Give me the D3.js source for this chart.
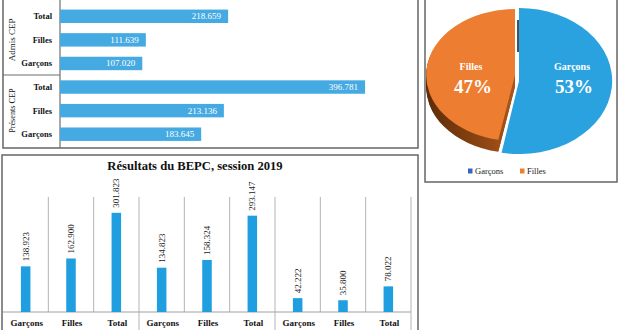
<!DOCTYPE html>
<html>
<head>
<meta charset="utf-8">
<script src="https://cdn.jsdelivr.net/npm/d3@7"></script>
<style>
  body { margin: 0; background: #fff; }
  svg { display: block; }
  text { font-family: "Liberation Serif", "Times New Roman", serif; }
</style>
</head>
<body>
<svg id="chart" width="620" height="330"></svg>
<script>
// CEP: admitted and present candidates (thousands)
const cepGroups = ["Admis CEP", "Présents CEP"];
const cepCategories = ["Total", "Filles", "Garçons"];
const cepAdmis = [218.659, 111.639, 107.020];
const cepPresents = [396.781, 213.136, 183.645];

// Share of admitted by sex
const pieLabels = ["Garçons", "Filles"];
const pieValues = [53, 47];

// BEPC 2019
const bepcTitle = "Résultats du BEPC, session 2019";
const bepcCategories = ["Garçons", "Filles", "Total", "Garçons", "Filles", "Total", "Garçons", "Filles", "Total"];
const bepcValues = [138.923, 162.900, 301.823, 134.823, 158.324, 293.147, 42.222, 35.800, 78.022];

const fmt = d3.format(".3f");
const svg = d3.select("#chart");
const frameColor = "#6f6f6f";

/* ---------- CEP horizontal bars ---------- */
const cepRows = [];
cepGroups.forEach((g, gi) => {
  const vals = gi === 0 ? cepAdmis : cepPresents;
  cepCategories.forEach((c, ci) => cepRows.push({ group: g, cat: c, value: vals[ci], key: g + "|" + c }));
});

const yCep = d3.scaleBand().domain(cepRows.map(d => d.key)).range([4.5, 146]).paddingInner(0.43).paddingOuter(0.215);
const xCep = d3.scaleLinear().domain([0, 450]).range([60, 406]);
const cepG = svg.append("g");

cepG.append("rect").attr("x", 3).attr("y", -3).attr("width", 415).attr("height", 151)
  .attr("fill", "none").attr("stroke", frameColor).attr("stroke-width", 1.6);
cepG.append("line").attr("x1", 60).attr("x2", 60).attr("y1", -3).attr("y2", 148)
  .attr("stroke", frameColor).attr("stroke-width", 1.2);
cepG.append("line").attr("x1", 3).attr("x2", 60).attr("y1", 75).attr("y2", 75)
  .attr("stroke", frameColor).attr("stroke-width", 1.2);

cepG.selectAll("rect.bar").data(cepRows).join("rect").attr("class", "bar")
  .attr("x", xCep(0)).attr("y", d => yCep(d.key))
  .attr("width", d => xCep(d.value) - xCep(0)).attr("height", yCep.bandwidth())
  .attr("fill", "#45aae2");

cepG.selectAll("text.val").data(cepRows).join("text").attr("class", "val")
  .attr("x", d => xCep(d.value) - 7).attr("y", d => yCep(d.key) + yCep.bandwidth() / 2 + 3)
  .attr("text-anchor", "end").attr("fill", "#fff").attr("font-size", 9)
  .text(d => fmt(d.value));

cepG.selectAll("text.cat").data(cepRows).join("text").attr("class", "cat")
  .attr("x", 52).attr("y", d => yCep(d.key) + yCep.bandwidth() / 2 + 3)
  .attr("text-anchor", "end").attr("font-weight", "bold").attr("font-size", 8.5).attr("fill", "#111")
  .text(d => d.cat);

cepGroups.forEach((g, gi) => {
  const keys = cepRows.filter(d => d.group === g).map(d => d.key);
  const cy = (yCep(keys[0]) + yCep(keys[2]) + yCep.bandwidth()) / 2;
  cepG.append("text").attr("transform", `translate(15,${cy}) rotate(-90)`)
    .attr("text-anchor", "middle").attr("font-size", gi === 0 ? 9 : 8.2).attr("fill", "#111")
    .text(g);
});

/* ---------- Pie ---------- */
const pieG = svg.append("g");
pieG.append("rect").attr("x", 425).attr("y", -3).attr("width", 192).attr("height", 185)
  .attr("fill", "none").attr("stroke", frameColor).attr("stroke-width", 1.6);

const defs = svg.append("defs");
const grad = defs.append("linearGradient").attr("id", "side").attr("x1", "0").attr("x2", "1").attr("y1", "0").attr("y2", "0");
grad.append("stop").attr("offset", "0%").attr("stop-color", "#5e2c08");
grad.append("stop").attr("offset", "60%").attr("stop-color", "#8a4412");
grad.append("stop").attr("offset", "100%").attr("stop-color", "#a9561c");

const arcs = d3.pie().sort(null)(pieValues);
const unitArc = d3.arc().innerRadius(0).outerRadius(1);
const pieColors = ["#2aa2e0", "#ed7d31"];
// each slice gets its own ellipse: the Filles slice is pulled slightly to the left
const sliceGeom = [
  { cx: 517, cy: 81, rx: 95, ry: 73 },
  { cx: 515, cy: 75, rx: 89, ry: 66 }
];

// extruded side of the Filles slice
const depth = 12;
const fg = sliceGeom[1];
for (let k = depth; k >= 1; k--) {
  pieG.append("path")
    .attr("transform", `translate(${fg.cx},${fg.cy + k}) scale(${fg.rx},${fg.ry})`)
    .attr("d", unitArc(arcs[1]))
    .attr("fill", "url(#side)");
}
pieG.append("path")
  .attr("transform", `translate(${fg.cx},${fg.cy}) scale(${fg.rx},${fg.ry})`)
  .attr("d", unitArc(arcs[1])).attr("fill", pieColors[1]);

const bg = sliceGeom[0];
// thin side face along the start edge of the Garçons slice
pieG.append("line").attr("x1", bg.cx + 1).attr("x2", bg.cx + 1).attr("y1", 20).attr("y2", 52)
  .attr("stroke", "#4a4f57").attr("stroke-width", 2);
pieG.append("path")
  .attr("transform", `translate(${bg.cx + 2},${bg.cy}) scale(${bg.rx - 2},${bg.ry})`)
  .attr("d", unitArc(arcs[0])).attr("fill", pieColors[0]);

const pieText = [
  { x: 471, name: pieLabels[1], pct: pieValues[1] },
  { x: 572, name: pieLabels[0], pct: pieValues[0] }
];
pieText.forEach(t => {
  pieG.append("text").attr("x", t.x).attr("y", 70).attr("text-anchor", "middle")
    .attr("fill", "#fff").attr("font-weight", "bold").attr("font-size", 10).text(t.name);
  pieG.append("text").attr("x", t.x + 2).attr("y", 93).attr("text-anchor", "middle")
    .attr("fill", "#fff").attr("font-weight", "bold").attr("font-size", 19).text(t.pct + "%");
});

const legendColors = ["#3566bd", "#ed7d31"];
const legendX = [468, 520];
pieLabels.forEach((l, i) => {
  pieG.append("rect").attr("x", legendX[i]).attr("y", 168.5).attr("width", 4.5).attr("height", 5)
    .attr("fill", legendColors[i]);
  pieG.append("text").attr("x", legendX[i] + 7).attr("y", 174).attr("font-size", 8.5).attr("fill", "#222").text(l);
});

/* ---------- BEPC vertical bars ---------- */
const bot = svg.append("g");
bot.append("rect").attr("x", 2).attr("y", 155).attr("width", 416).attr("height", 200)
  .attr("fill", "none").attr("stroke", frameColor).attr("stroke-width", 1.6);

const idx = bepcValues.map((_, i) => i);
const xB = d3.scaleBand().domain(idx).range([3, 411]).paddingInner(0.79).paddingOuter(0.395);
const yB = d3.scaleLinear().domain([0, 350]).range([312, 197]);

bot.append("text").attr("x", 195).attr("y", 170).attr("text-anchor", "middle")
  .attr("font-weight", "bold").attr("font-size", 12.6).attr("fill", "#111").text(bepcTitle);

// separators between categories; the ones between groups run through the label row
const step = xB.step();
d3.range(1, 10).forEach(i => {
  const x = 3 + i * step;
  bot.append("line").attr("x1", x).attr("x2", x).attr("y1", yB.range()[1]).attr("y2", i % 3 === 0 ? 332 : 312)
    .attr("stroke", "#b4b4b4").attr("stroke-width", 1);
});
bot.append("line").attr("x1", 3).attr("x2", 411).attr("y1", 312).attr("y2", 312)
  .attr("stroke", "#a0a0a0").attr("stroke-width", 1);

bot.selectAll("rect.bar").data(idx).join("rect").attr("class", "bar")
  .attr("x", i => xB(i)).attr("y", i => yB(bepcValues[i]))
  .attr("width", xB.bandwidth()).attr("height", i => yB(0) - yB(bepcValues[i]))
  .attr("fill", "#1f9fe0");

bot.selectAll("text.val").data(idx).join("text").attr("class", "val")
  .attr("transform", i => `translate(${xB(i) + xB.bandwidth() / 2 + 3},${yB(bepcValues[i]) - 5}) rotate(-90)`)
  .attr("font-size", 9).attr("fill", "#222")
  .text(i => fmt(bepcValues[i]));

bot.selectAll("text.cat").data(idx).join("text").attr("class", "cat")
  .attr("x", i => xB(i) + xB.bandwidth() / 2 + 1).attr("y", 326)
  .attr("text-anchor", "middle").attr("font-weight", "bold").attr("font-size", 9).attr("fill", "#111")
  .text(i => bepcCategories[i]);
</script>
</body>
</html>
